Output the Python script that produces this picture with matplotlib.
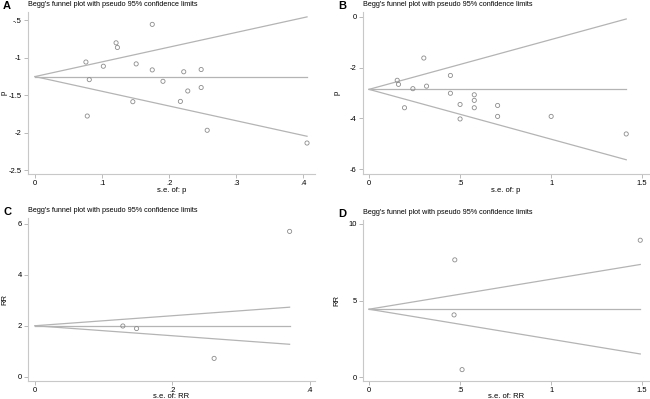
import matplotlib
matplotlib.use('Agg')
import matplotlib.pyplot as plt
from matplotlib.ticker import FuncFormatter
import numpy as np

plt.rcParams['font.family'] = ['Liberation Sans', 'DejaVu Sans']

# panel A: log p vs s.e.
se_a = [0.076, 0.081, 0.078, 0.102, 0.121, 0.123, 0.151, 0.146, 0.175, 0.175,
        0.191, 0.217, 0.222, 0.228, 0.248, 0.248, 0.257, 0.406]
y_a = [-1.06, -1.295, -1.78, -1.116, -0.804, -0.866, -1.085, -1.589, -0.558, -1.165,
       -1.317, -1.585, -1.19, -1.446, -1.16, -1.40, -1.97, -2.14]
theta_a = -1.254

# panel B
se_b = [0.155, 0.162, 0.301, 0.195, 0.241, 0.316, 0.447, 0.447, 0.5, 0.5,
        0.578, 0.578, 0.578, 0.706, 0.706, 1.0, 1.412]
y_b = [-2.50, -2.66, -1.625, -3.58, -2.83, -2.73, -2.31, -3.01, -3.45, -4.02,
       -3.07, -3.29, -3.58, -3.49, -3.92, -3.92, -4.61]
theta_b = -2.857

# panel C
se_c = [0.128, 0.148, 0.261, 0.371]
y_c = [2.0, 1.90, 0.73, 5.71]
theta_c = 2.01

# panel D
se_d = [0.471, 0.467, 0.511, 1.489]
y_d = [7.66, 4.07, 0.5, 8.94]
theta_d = 4.44

panels = [
    ('A', se_a, y_a, theta_a, 'p', 's.e. of: p', [0, .1, .2, .3, .4], [-.5, -1, -1.5, -2, -2.5]),
    ('B', se_b, y_b, theta_b, 'p', 's.e. of: p', [0, .5, 1, 1.5], [0, -2, -4, -6]),
    ('C', se_c, y_c, theta_c, 'RR', 's.e. of: RR', [0, .2, .4], [0, 2, 4, 6]),
    ('D', se_d, y_d, theta_d, 'RR', 's.e. of: RR', [0, .5, 1, 1.5], [0, 5, 10]),
]

W, H = 650, 399
# pixel boxes (left, right, top, bottom), y-label x, and limits
boxes = [
    (28, 315, 12, 174, 8, (-0.01045, 0.4179), (-2.553, -0.393)),
    (363, 649, 12, 174, 341, (-0.0328, 1.537), (-6.185, 0.185)),
    (28, 315, 218, 381, 8, (-0.0102, 0.408), (-0.157, 6.235)),
    (363, 649, 220, 381, 340, (-0.0328, 1.537), (-0.242, 10.26)),
]

def stata_fmt(v, pos):
    s = ('%g' % v)
    if s.startswith('0.'):
        s = s[1:]
    elif s.startswith('-0.'):
        s = '-' + s[2:]
    return s

fig = plt.figure(figsize=(6.5, 3.99), dpi=100)
line_c = '#b4b4b4'
for (letter, se, yv, th, ylab, xlab, xt, yt), (l, r, t, b, lx, xl, yl) in zip(panels, boxes):
    ax = fig.add_axes([l / W, 1 - b / H, (r - l) / W, (b - t) / H])
    smax = max(se)
    s = np.array([0, smax])
    ax.plot(s, th + 1.96 * s, color=line_c, lw=0.9)
    ax.plot(s, th - 1.96 * s, color=line_c, lw=0.9)
    ax.plot(s, [th, th], color=line_c, lw=0.9)
    ax.scatter(se, yv, s=9, facecolors='none', edgecolors='#8c8c8c', linewidths=0.6, zorder=3)
    ax.set_xlim(xl)
    ax.set_ylim(yl)
    ax.set_xticks(xt)
    ax.set_yticks(yt)
    ax.xaxis.set_major_formatter(FuncFormatter(stata_fmt))
    ax.yaxis.set_major_formatter(FuncFormatter(stata_fmt))
    for sp in ['top', 'right']:
        ax.spines[sp].set_visible(False)
    for sp in ['left', 'bottom']:
        ax.spines[sp].set_color('#c8c8c8')
        ax.spines[sp].set_linewidth(0.8)
    ax.tick_params(length=3, width=0.6, color='#b0b0b0', labelsize=5.5, pad=1.5)
    ax.set_xlabel(xlab, fontsize=5.5)
    ax.xaxis.set_label_coords(0.5, -12.5 / (b - t))
    ax.set_ylabel(ylab, fontsize=5.5)
    ax.yaxis.set_label_coords(-(l - lx) / (r - l), 0.5)
    fig.text((l - 25) / W, 1 - (t - 6) / H, letter, fontsize=8, fontweight='bold', va='center', ha='left')
    fig.text(l / W, 1 - (t - 8) / H, "Begg's funnel plot with pseudo 95% confidence limits",
             fontsize=5.2, va='center', ha='left')

fig.savefig('out.png', dpi=100, facecolor='white')
